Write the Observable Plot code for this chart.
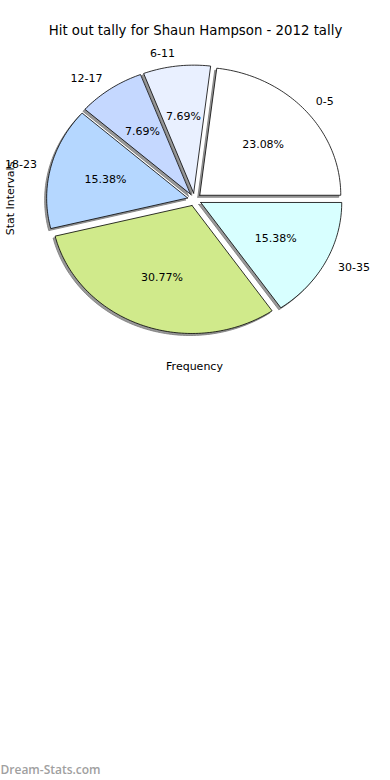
<!DOCTYPE html>
<html>
<head>
<meta charset="utf-8">
<script src="https://cdn.jsdelivr.net/npm/d3@7"></script>
<script src="https://cdn.jsdelivr.net/npm/@observablehq/plot@0.6"></script>
<style>
  html, body { margin: 0; padding: 0; background: #fff; }
  #chart svg { display: block; }
</style>
</head>
<body>
<div id="chart"></div>
<script>
// ---- data ----
const title = "Hit out tally for Shaun Hampson - 2012 tally";
const categories = ["0-5", "6-11", "12-17", "18-23", "24-29", "30-35"];
const counts = [3, 1, 1, 2, 4, 2];
const percentLabels = ["23.08%", "7.69%", "7.69%", "15.38%", "30.77%", "15.38%"];
const shownLabels = ["0-5", "6-11", "12-17", "18-23", "", "30-35"];
const colors = ["#ffffff", "#e9f0ff", "#c5d8ff", "#b5d7ff", "#d0ea8b", "#d8ffff"];
const xLabel = "Frequency";
const yLabel = "Stat Intervals";
const watermark = "Dream-Stats.com";

// ---- geometry (matplotlib-style pie: start at east, counter-clockwise) ----
const explode = 0.05;
const total = d3.sum(counts);
let acc = 0;
const slices = counts.map((c, i) => {
  const a0 = acc / total * 2 * Math.PI;
  acc += c;
  const a1 = acc / total * 2 * Math.PI;
  const mid = (a0 + a1) / 2;
  const ox = explode * Math.cos(mid), oy = explode * Math.sin(mid);
  const n = Math.max(4, Math.ceil((a1 - a0) / 0.02));
  const pts = [{x: ox, y: oy}];
  for (let k = 0; k <= n; k++) {
    const a = a0 + (a1 - a0) * k / n;
    pts.push({x: ox + Math.cos(a), y: oy + Math.sin(a)});
  }
  pts.push({x: ox, y: oy});
  return {i, cat: categories[i], mid, ox, oy, pts};
});

const labelData = slices.map(s => ({
  x: s.ox + 1.1 * Math.cos(s.mid),
  y: s.oy + 1.1 * Math.sin(s.mid),
  text: shownLabels[s.i],
  right: Math.cos(s.mid) >= 0
})).filter(d => d.text !== "");

const pctData = slices.map(s => ({
  x: s.ox + 0.6 * Math.cos(s.mid),
  y: s.oy + 0.6 * Math.sin(s.mid),
  text: percentLabels[s.i]
}));

const font = "DejaVu Sans, sans-serif";
const marks = [];
// shadows
for (const s of slices) {
  marks.push(Plot.line(s.pts, {x: "x", y: "y", fill: "#999999", stroke: "#777777", strokeWidth: 0.8, dx: -2, dy: 2, curve: "linear"}));
}
// wedges
for (const s of slices) {
  marks.push(Plot.line(s.pts, {x: "x", y: "y", fill: colors[s.i], stroke: "#000", strokeWidth: 0.8, curve: "linear"}));
}
marks.push(
  Plot.text(labelData.filter(d => d.right), {x: "x", y: "y", text: "text", textAnchor: "start", fontSize: 11, fill: "#000"}),
  Plot.text(labelData.filter(d => !d.right), {x: "x", y: "y", text: "text", textAnchor: "end", fontSize: 11, fill: "#000"}),
  Plot.text(pctData, {x: "x", y: "y", text: "text", fontSize: 11, fill: "#000"}),
  Plot.text([title], {frameAnchor: "top", textAnchor: "middle", lineAnchor: "middle", dx: 0, dy: 30, text: d => d, fontSize: 13.3, fill: "#000"}),
  Plot.text([xLabel], {frameAnchor: "top", textAnchor: "middle", lineAnchor: "middle", dx: -1, dy: 366, text: d => d, fontSize: 11, fill: "#000"}),
  Plot.text([yLabel], {frameAnchor: "top-left", textAnchor: "middle", lineAnchor: "middle", dx: 10, dy: 198, rotate: -90, text: d => d, fontSize: 11, fill: "#000"}),
  Plot.text([watermark], {frameAnchor: "bottom-left", textAnchor: "start", lineAnchor: "middle", dx: 0, dy: -10, text: d => d, fontSize: 12, fontWeight: 600, fill: "#a0a0a0", fontFamily: "Open Sans, sans-serif"})
);

const chart = Plot.plot({
  width: 390,
  height: 780,
  margin: 0,
  style: {fontFamily: font, background: "#fff", overflow: "visible"},
  x: {domain: [-1, 1], range: [194 - 141, 194 + 141], axis: null},
  y: {domain: [-1, 1], range: [199 + 128, 199 - 128], axis: null},
  marks
});
document.getElementById("chart").appendChild(chart);
</script>
</body>
</html>
